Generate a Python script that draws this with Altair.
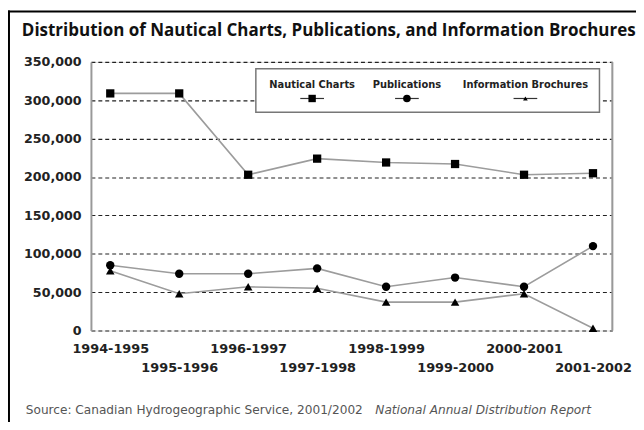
import json
import altair as alt
import pandas as pd

periods = ["1994-1995", "1995-1996", "1996-1997", "1997-1998",
           "1998-1999", "1999-2000", "2000-2001", "2001-2002"]
series_names = ["Nautical Charts", "Publications", "Information Brochures"]
nautical = [309000, 309000, 203000, 224000, 219000, 217000, 203000, 205000]
publications = [85000, 74000, 74000, 81000, 57000, 69000, 57000, 110000]
brochures = [78000, 48000, 57000, 55000, 37000, 37000, 48000, 3000]
y_ticks = [0, 50000, 100000, 150000, 200000, 250000, 300000, 350000]

title_text = "Distribution of Nautical Charts, Publications, and Information Brochures"
source_regular = "Source: Canadian Hydrogeographic Service, 2001/2002 "
source_italic = "National Annual Distribution Report"

rows = []
for name, vals in zip(series_names, [nautical, publications, brochures]):
    for p, v in zip(periods, vals):
        rows.append({"period": p, "series": name, "value": v})
df = pd.DataFrame(rows)

W, H = 528, 272
shapes = ["square", "circle", "triangle-up"]
sizes = [70, 75, 28]

odd_labels = periods[1::2]
label_expr = f"indexof({json.dumps(odd_labels)}, datum.value) >= 0 ? ['', datum.label] : datum.label"

x_enc = alt.X("period:N", sort=periods,
              scale=alt.Scale(type="point", padding=0.28, domain=periods),
              axis=alt.Axis(title=None, labelAngle=0, labelExpr=label_expr,
                            labelFont="DejaVu Sans", labelFontWeight="bold",
                            labelFontSize=13, labelColor="#222", labelPadding=12,
                            labelLineHeight=20, ticks=False, domain=False,
                            grid=False, labelOverlap=False))
y_enc = alt.Y("value:Q", scale=alt.Scale(domain=[0, 350000], nice=False),
              axis=alt.Axis(title=None, values=y_ticks, format=",d",
                            labelFont="DejaVu Sans", labelFontWeight="bold",
                            labelFontSize=12.8, labelColor="#222", labelPadding=10,
                            ticks=False, domainColor="#999", domainWidth=2,
                            grid=True, gridColor="#222", gridDash=[4, 3],
                            gridWidth=1.2))

base = alt.Chart(df).encode(x=x_enc, y=y_enc)

lines = base.mark_line(color="#9c9c9c", strokeWidth=1.6).encode(detail="series:N")
points = base.mark_point(filled=True, color="black", opacity=1).encode(
    shape=alt.Shape("series:N", scale=alt.Scale(domain=series_names, range=shapes), legend=None),
    size=alt.Size("series:N", scale=alt.Scale(domain=series_names, range=sizes), legend=None),
)

one = pd.DataFrame({"k": [0]})
right_line = alt.Chart(one).mark_rule(color="#999", strokeWidth=2).encode(
    x=alt.value(W), y=alt.value(0), y2=alt.value(H))

border_left = alt.Chart(one).mark_rule(color="black", strokeWidth=2).encode(
    x=alt.value(-83), y=alt.value(-52), y2=alt.value(H + 120))
border_top = alt.Chart(one).mark_rule(color="black", strokeWidth=2).encode(
    y=alt.value(-51), x=alt.value(-84), x2=alt.value(W + 40))

legend_box = alt.Chart(one).mark_rect(fill="white", stroke="#777", strokeWidth=1.5).encode(
    x=alt.value(167), x2=alt.value(515), y=alt.value(7), y2=alt.value(51))

legend_layers = [legend_box]
legend_cx = [224, 320, 440]
for name, cx, shp, sz in zip(series_names, legend_cx, shapes, sizes):
    d = pd.DataFrame({"t": [name]})
    legend_layers.append(alt.Chart(d).mark_text(
        font="DejaVu Sans", fontWeight="bold", fontSize=10, color="#222",
        align="center", baseline="middle").encode(
        text="t:N", x=alt.value(cx), y=alt.value(23)))
    legend_layers.append(alt.Chart(d).mark_rule(color="#333", strokeWidth=1.2).encode(
        x=alt.value(cx - 12), x2=alt.value(cx + 12), y=alt.value(37)))
    legend_layers.append(alt.Chart(d).mark_point(
        shape=shp, filled=True, color="black", opacity=1, size=sz * 0.8).encode(
        x=alt.value(cx), y=alt.value(37)))

title = alt.Chart(pd.DataFrame({"t": [title_text]})).mark_text(
    font="Open Sans", fontWeight="bold", fontSize=17.2, color="#111",
    align="left", baseline="alphabetic").encode(
    text="t:N", x=alt.value(-70), y=alt.value(-26))

src1 = alt.Chart(pd.DataFrame({"t": [source_regular]})).mark_text(
    font="DejaVu Sans", fontSize=12.3, color="#555",
    align="left", baseline="alphabetic").encode(
    text="t:N", x=alt.value(-66), y=alt.value(357))
src2 = alt.Chart(pd.DataFrame({"t": [source_italic]})).mark_text(
    font="DejaVu Sans", fontStyle="italic", fontSize=12.3, color="#555",
    align="left", baseline="alphabetic").encode(
    text="t:N", x=alt.value(288), y=alt.value(357))

chart = alt.layer(
    lines, points, right_line, *legend_layers, title, src1, src2,
    border_left, border_top
).properties(
    width=W, height=H,
    autosize=alt.AutoSizeParams(type="none"),
    padding={"left": 84, "top": 52, "right": 24, "bottom": 90},
).configure_view(stroke=None).configure(background="white")

chart.save("out.html", embed_options={"renderer": "svg", "actions": False})
